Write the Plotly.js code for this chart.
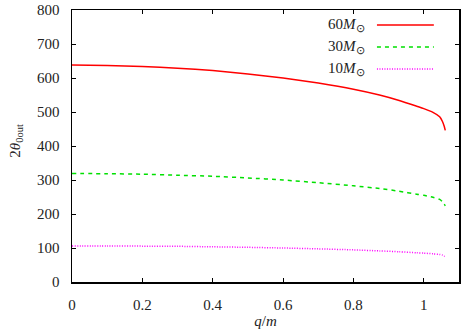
<!DOCTYPE html>
<html>
<head>
<meta charset="utf-8">
<script src="https://cdn.plot.ly/plotly-3.0.1.min.js"></script>
<style>
html,body{margin:0;padding:0;background:#fff;}
#plot{width:463px;height:332px;}
#plot .xtick text, #plot .ytick text, #plot text {font-family: 'Liberation Serif', serif !important;}
</style>
</head>
<body>
<div id="plot"></div>
<script>
// q/m values
const qm = [0, 0.1, 0.2, 0.3, 0.4, 0.5, 0.6, 0.7, 0.8, 0.874, 0.93, 0.98, 1.0, 1.026, 1.045, 1.053, 1.058, 1.061];
// 2θ_0out for 60 M_sun
const theta60 = [638, 637, 634, 629, 622, 612, 600, 585, 567, 550, 534, 517, 510, 499, 486, 472, 458, 446];
// 2θ_0out for 30 M_sun
const theta30 = [319, 318.5, 317, 314, 311, 306, 300, 292, 283, 275, 267, 258, 255, 249, 243, 236, 229, 224];
// 2θ_0out for 10 M_sun
const theta10 = [106, 106, 105.5, 105, 103.5, 102, 100, 97.5, 94.5, 91.5, 89, 86, 85, 83, 81, 79, 76, 74];
const seriesNames = ['60<i>M</i><sub>⊙</sub>', '30<i>M</i><sub>⊙</sub>', '10<i>M</i><sub>⊙</sub>'];
const colors = ['#ff0000', '#00e000', '#ff00ff'];
const dashes = ['solid', '4px,4px', '1px,1.5px'];
const xTicks = [0, 0.2, 0.4, 0.6, 0.8, 1];
const xTickText = ['0', '0.2', '0.4', '0.6', '0.8', '1'];
const yTicks = [0, 100, 200, 300, 400, 500, 600, 700, 800];
const yTickText = ['0', '100', '200', '300', '400', '500', '600', '700', '800'];

const ys = [theta60, theta30, theta10];
const traces = ys.map((y, i) => ({
  x: qm, y: y, type: 'scatter', mode: 'lines', name: seriesNames[i],
  line: {color: colors[i], width: 1.5, dash: dashes[i], shape: 'spline', smoothing: 0.6},
  showlegend: false, hoverinfo: 'skip'
}));

function mkFont() { return {family: 'Liberation Serif', size: 15, color: '#222'}; }
const rowY = [0.945, 0.864, 0.783];
const annotations = seriesNames.map((t, i) => ({
  xref: 'paper', yref: 'paper', x: 0.762, y: rowY[i], xanchor: 'right', yanchor: 'middle',
  text: t, showarrow: false, font: mkFont()
}));
annotations.push({
  xref: 'paper', yref: 'paper', x: -0.147, y: 0.52, xanchor: 'center', yanchor: 'middle',
  text: '2<i>θ</i><sub>0out</sub>', textangle: -90, showarrow: false, font: mkFont()
});
const shapes = rowY.map((yy, i) => ({
  type: 'line', xref: 'paper', yref: 'paper', x0: 0.788, x1: 0.935, y0: yy, y1: yy,
  line: {color: colors[i], width: 1.5, dash: dashes[i]}
}));

function axisCommon() {
  return {
    showline: true, linecolor: '#000', linewidth: 1.5, mirror: 'ticks',
    ticks: 'inside', ticklen: 4, tickwidth: 1, tickcolor: '#000',
    showgrid: false, zeroline: false, tickfont: mkFont(), tickmode: 'array'
  };
}

const layout = {
  width: 463, height: 332,
  margin: {l: 72, r: 4, t: 10, b: 50},
  paper_bgcolor: '#fff', plot_bgcolor: '#fff',
  font: mkFont(),
  xaxis: Object.assign(axisCommon(), {
    range: [0, 1.1], tickvals: xTicks, ticktext: xTickText, ticklabelstandoff: 8,
    title: {text: '<i>q</i>/<i>m</i>', font: mkFont(), standoff: 4}
  }),
  yaxis: Object.assign(axisCommon(), {
    range: [0, 800], tickvals: yTicks, ticktext: yTickText, ticklabelstandoff: 8
  }),
  annotations: annotations,
  shapes: shapes,
  showlegend: false
};

Plotly.newPlot('plot', traces, layout, {displayModeBar: false, staticPlot: true});
</script>
</body>
</html>
